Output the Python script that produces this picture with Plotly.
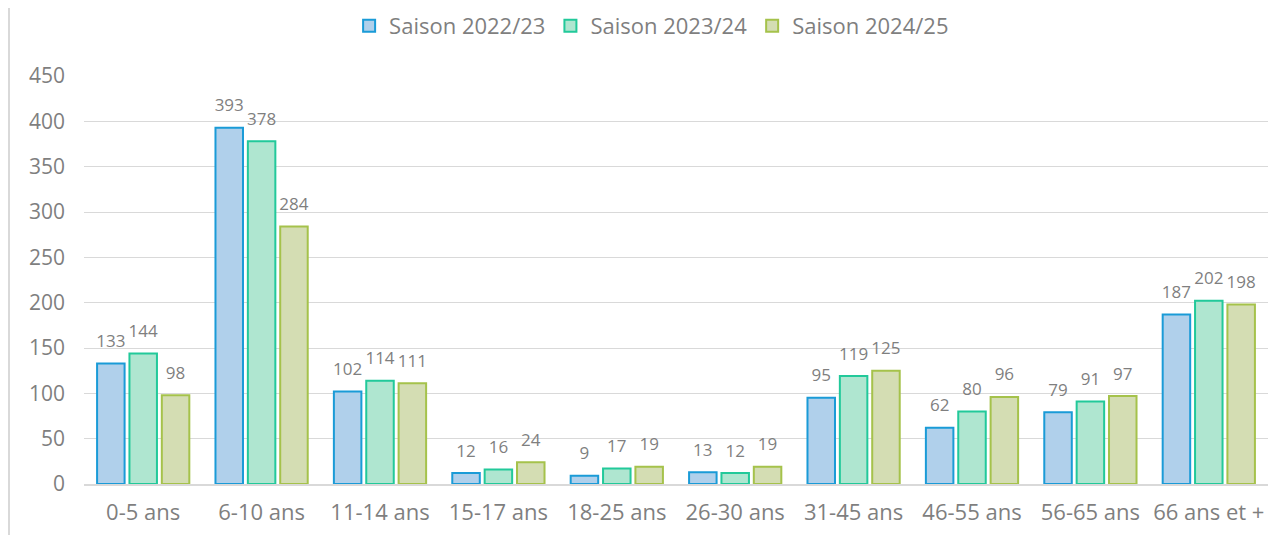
import plotly.graph_objects as go

categories = ["0-5 ans", "6-10 ans", "11-14 ans", "15-17 ans", "18-25 ans",
              "26-30 ans", "31-45 ans", "46-55 ans", "56-65 ans", "66 ans et +"]
series_names = ["Saison 2022/23", "Saison 2023/24", "Saison 2024/25"]
s2022 = [133, 393, 102, 12, 9, 13, 95, 62, 79, 187]
s2023 = [144, 378, 114, 16, 17, 12, 119, 80, 91, 202]
s2024 = [98, 284, 111, 24, 19, 19, 125, 96, 97, 198]
y_ticks = [0, 50, 100, 150, 200, 250, 300, 350, 400, 450]

fills = ["#b0d0eb", "#afe6d0", "#d4ddb3"]
lines = ["#1a9bd7", "#22c99a", "#a5c24b"]
grey = "#7f7f7f"
font = "Open Sans"

fig = go.Figure()
for name, vals, fc, lc in zip(series_names, [s2022, s2023, s2024], fills, lines):
    fig.add_trace(go.Bar(
        x=categories, y=vals, name=name,
        marker=dict(color=fc, line=dict(color=lc, width=2)),
        hovertemplate="%{x}: %{y}<extra>" + name + "</extra>",
    ))
for name, vals in zip(series_names, [s2022, s2023, s2024]):
    fig.add_trace(go.Scatter(
        x=categories, y=vals, mode="markers+text", showlegend=False,
        text=[str(v) for v in vals], textposition="top center",
        textfont=dict(family=font, size=17, color=grey),
        marker=dict(size=18, color="rgba(0,0,0,0)"),
        hoverinfo="skip", cliponaxis=False,
    ))

# page is offset by the browser's 8px body margin
fig.update_layout(
    width=1277, height=527,
    margin=dict(l=76, r=17, t=68, b=51, autoexpand=False),
    paper_bgcolor="white", plot_bgcolor="white",
    barmode="group", bargap=0.18, bargroupgap=0.15,
    scattermode="group", scattergap=0.18,
    font=dict(family=font, color=grey, size=22),
    legend=dict(orientation="h", xref="container", x=0.504, xanchor="center",
                yref="container", y=0.966, yanchor="middle",
                font=dict(size=22, color=grey), itemwidth=30, tracegroupgap=0),
    xaxis=dict(showgrid=False, showline=True, linecolor="#d9d9d9", linewidth=2,
               automargin=False,
               tickfont=dict(size=22, color=grey), ticklabelstandoff=8),
    yaxis=dict(range=[0, 450], tickvals=y_ticks, showgrid=True,
               gridcolor="#d9d9d9", gridwidth=1, zeroline=False, automargin=False,
               tickfont=dict(size=21, color=grey), ticklabelstandoff=18),
    shapes=[dict(type="line", xref="paper", yref="paper", xsizemode="pixel",
                 xanchor=0, x0=-75, x1=-75, y0=-0.2, y1=1.3,
                 line=dict(color="#d9d9d9", width=2))],
)

fig.write_html("out.html")
